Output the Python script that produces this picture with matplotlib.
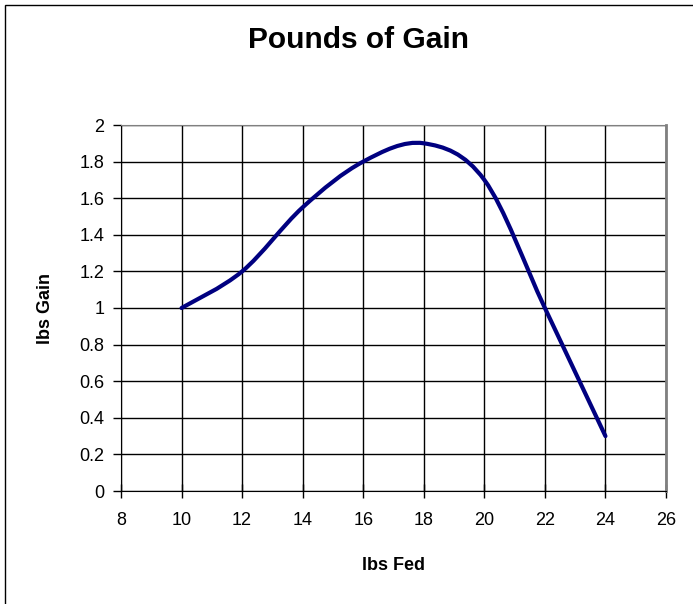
import matplotlib

matplotlib.use("Agg")
import matplotlib.pyplot as plt
import numpy as np
from matplotlib.path import Path
from matplotlib.patches import PathPatch, Rectangle

plt.rcParams["font.family"] = ["Liberation Sans", "DejaVu Sans"]

LINE = "#000080"

lbs_fed = [10, 12, 14, 16, 18, 20, 22, 24]
lbs_gain = [1.0, 1.2, 1.55, 1.8, 1.9, 1.7, 1.0, 0.3]
x_ticks = [8, 10, 12, 14, 16, 18, 20, 22, 24, 26]
y_ticks = [0, 0.2, 0.4, 0.6, 0.8, 1, 1.2, 1.4, 1.6, 1.8, 2]
y_labels = ["0", "0.2", "0.4", "0.6", "0.8", "1", "1.2", "1.4", "1.6", "1.8", "2"]


def smooth_path(xs, ys):
    # Excel-style smoothed line: Catmull-Rom segments as cubic Beziers
    p = np.column_stack([xs, ys]).astype(float)
    ext = np.vstack([p[0], p, p[-1]])
    verts = [p[0]]
    codes = [Path.MOVETO]
    for i in range(1, len(ext) - 2):
        p0, p1, p2, p3 = ext[i - 1], ext[i], ext[i + 1], ext[i + 2]
        verts += [p1 + (p2 - p0) / 6, p2 - (p3 - p1) / 6, p2]
        codes += [Path.CURVE4] * 3
    return Path(verts, codes)


fig = plt.figure(figsize=(6.93, 6.04), dpi=100)
ax = fig.add_axes([121 / 693, 1 - 491 / 604, 545 / 693, 366 / 604])

ax.add_patch(PathPatch(smooth_path(lbs_fed, lbs_gain), fill=False,
                       edgecolor=LINE, lw=3, capstyle="round", zorder=3))

ax.set_xlim(8, 26)
ax.set_ylim(0, 2)
ax.set_xticks(x_ticks)
ax.set_yticks(y_ticks)
ax.set_yticklabels(y_labels)
ax.grid(True, color="black", lw=1)
ax.set_axisbelow(True)
ax.tick_params(labelsize=13, width=1)
ax.tick_params(axis="x", direction="inout", length=10, pad=10)
ax.tick_params(axis="y", direction="out", length=6, pad=6)

for side in ["top", "right"]:
    ax.spines[side].set_color("#808080")
ax.spines["right"].set_linewidth(2)
ax.spines["left"].set_color("black")
ax.spines["bottom"].set_color("black")

ax.set_xlabel("lbs Fed", fontsize=13, fontweight="bold", labelpad=20)
ax.set_ylabel("lbs Gain", fontsize=13, fontweight="bold", labelpad=18)
fig.text(358 / 693, 1 - 40 / 604, "Pounds of Gain", ha="center", va="center",
         fontsize=21.5, fontweight="bold")

fig.patches.append(Rectangle((5 / 693, -0.01), 1.0, 1 - 5 / 604 + 0.01,
                             transform=fig.transFigure, fill=False,
                             edgecolor="black", lw=1))

fig.savefig("out.png", dpi=100)
